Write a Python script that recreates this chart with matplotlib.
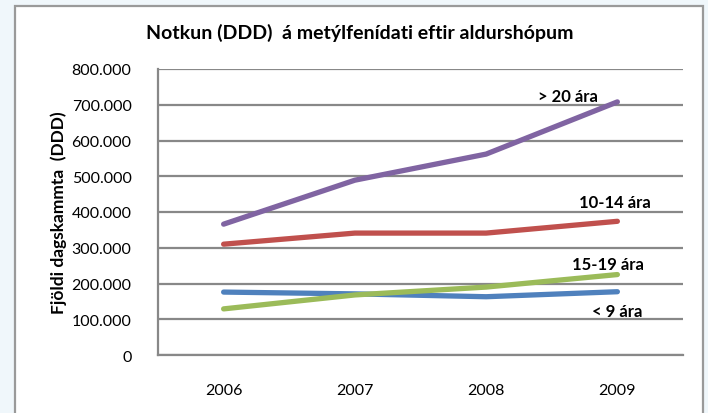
import matplotlib
matplotlib.use('Agg')
import matplotlib.pyplot as plt
from matplotlib.patches import Rectangle

plt.rcParams['font.family'] = ['Lato', 'DejaVu Sans']

years = ['2006', '2007', '2008', '2009']
over20 = [366000, 489000, 562000, 708000]
age10_14 = [310000, 341000, 341000, 374000]
age15_19 = [129000, 168000, 190000, 225000]
under9 = [176000, 171000, 163000, 177000]

series = [
    (over20, '#8064A2', '> 20 ára'),
    (age10_14, '#C0504D', '10-14 ára'),
    (under9, '#4F81BD', '< 9 ára'),
    (age15_19, '#9BBB59', '15-19 ára'),
]

fig = plt.figure(figsize=(7.08, 4.14), dpi=100)
fig.patch.set_facecolor('#F0F7FB')
# white chart area with grey border
fig.patches.append(Rectangle((15/708, -0.05), 688/708, 1 - 7/414 + 0.05,
                             transform=fig.transFigure, facecolor='white',
                             edgecolor='#9A9A9A', linewidth=1.6, zorder=-5))

ax = fig.add_axes([158/708, 1 - 356/414, 525/708, 286/414])
ax.set_facecolor('white')
x = range(len(years))
for vals, col, name in series:
    ax.plot(x, vals, color=col, linewidth=3.8, solid_capstyle='round', zorder=3)

ax.set_xlim(-0.5, 3.5)
ax.set_ylim(0, 800000)
ax.set_yticks(range(0, 800001, 100000))
ax.set_yticklabels(['0'] + ['{:d}.000'.format(v // 1000) for v in range(100000, 800001, 100000)])
ax.set_xticks(list(x))
ax.set_xticklabels(years)
ax.tick_params(length=0, labelsize=11.5, colors='black', pad=19)
ax.tick_params(axis='x', pad=20)
ax.grid(axis='y', color='#888888', linewidth=1.6)
ax.set_axisbelow(True)
for s in ['top', 'right']:
    ax.spines[s].set_visible(False)
for s in ['left', 'bottom']:
    ax.spines[s].set_color('#888888')
    ax.spines[s].set_linewidth(1.6)

ax.set_ylabel('Fjöldi dagskammta  (DDD)', fontsize=12.5, fontweight='bold', labelpad=3)

# line labels
lbl = dict(fontsize=12, fontweight='bold', ha='center', va='center')
ax.text(2.62, over20[3] + 16000, '> 20 ára', **lbl)
ax.text(2.98, age10_14[3] + 54000, '10-14 ára', **lbl)
ax.text(2.93, age15_19[3] + 30000, '15-19 ára', **lbl)
ax.text(3.0, under9[3] - 54000, '< 9 ára', **lbl)

fig.text(360/708, 1 - 33/414, 'Notkun (DDD)  á metýlfenídati eftir aldurshópum',
         fontsize=14, fontweight='bold', ha='center', va='center')

fig.savefig('out.png', dpi=100, facecolor=fig.get_facecolor())
